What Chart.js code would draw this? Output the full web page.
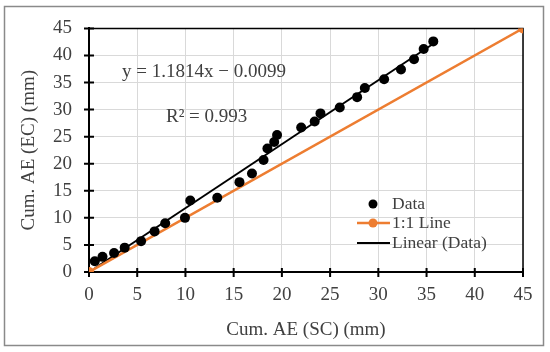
<!DOCTYPE html>
<html>
<head>
<meta charset="utf-8">
<script src="https://cdn.jsdelivr.net/npm/chart.js@4/dist/chart.umd.min.js"></script>
<style>
    body { margin: 0; background: #fff; }
    #wrap { width: 550px; height: 352px; }
</style>
</head>
<body>
<div id="wrap"><canvas id="chart" width="550" height="352"></canvas></div>
<script>
const sc = [0.6, 1.4, 2.6, 3.7, 5.4, 6.8, 7.9, 9.95, 10.5, 13.3, 15.6, 16.9, 18.1, 18.5,
    19.2, 19.5, 22.0, 23.4, 24.0, 26.0, 27.8, 28.6, 30.6, 32.35, 33.7, 34.7, 35.7];
const ec = [2.0, 2.8, 3.5, 4.5, 5.7, 7.5, 9.0, 10.0, 13.2, 13.7, 16.6, 18.2, 20.7, 22.8,
    24.0, 25.3, 26.7, 27.8, 29.3, 30.4, 32.3, 34.0, 35.6, 37.4, 39.3, 41.2, 42.6];
const oneToOneX = [0, 45];
const oneToOneY = [0, 45];
const slope = 1.1814;
const intercept = -0.0099;
const tickValues = [0, 5, 10, 15, 20, 25, 30, 35, 40, 45];

const FONT = "'Liberation Serif', 'Times New Roman', serif";
const TEXT = "#404040";
const ORANGE = "#ED7D31";

const dataPts = sc.map((x, i) => ({ x: x, y: ec[i] }));
const unitPts = oneToOneX.map((x, i) => ({ x: x, y: oneToOneY[i] }));
const xMin = Math.min(...sc), xMax = Math.max(...sc);
const trendPts = [xMin, xMax].map((x) => ({ x: x, y: slope * x + intercept }));

const framePlugin = {
    id: "frame",
    beforeDraw: (chart) => {
        const ctx = chart.ctx;
        ctx.save();
        ctx.fillStyle = "#fff";
        ctx.fillRect(0, 0, chart.width, chart.height);
        ctx.strokeStyle = "#8a8a8a";
        ctx.lineWidth = 1.5;
        ctx.strokeRect(4.5, 6.5, 539, 339);
        ctx.restore();
    },
    beforeDatasetsDraw: (chart) => {
        const { ctx, chartArea: a, scales } = chart;
        ctx.save();
        ctx.strokeStyle = "#000";
        ctx.lineWidth = 1.5;
        ctx.beginPath();
        ctx.moveTo(a.left, a.top);
        ctx.lineTo(a.right, a.top);
        ctx.lineTo(a.right, a.bottom);
        ctx.stroke();
        ctx.lineWidth = 2;
        ctx.beginPath();
        tickValues.forEach((v) => {
            const y = scales.y.getPixelForValue(v);
            ctx.moveTo(a.left - 5, y);
            ctx.lineTo(a.left + 5, y);
            const x = scales.x.getPixelForValue(v);
            ctx.moveTo(x, a.bottom - 4);
            ctx.lineTo(x, a.bottom + 5);
        });
        ctx.stroke();
        ctx.restore();
    },
    afterDraw: (chart) => {
        const ctx = chart.ctx;
        ctx.save();
        ctx.font = "19px " + FONT;
        ctx.fillStyle = TEXT;
        ctx.textBaseline = "middle";
        ctx.fillText("y = 1.1814x \u2212 0.0099", 122, 72);
        ctx.fillText("R\u00B2 = 0.993", 166, 117);

        // legend
        const lx = 373, tx = 392;
        ctx.font = "17.5px " + FONT;
        ctx.fillStyle = "#000";
        ctx.beginPath();
        ctx.arc(lx, 204, 4.5, 0, Math.PI * 2);
        ctx.fill();
        ctx.strokeStyle = ORANGE;
        ctx.lineWidth = 2.5;
        ctx.beginPath();
        ctx.moveTo(357, 223);
        ctx.lineTo(390, 223);
        ctx.stroke();
        ctx.fillStyle = ORANGE;
        ctx.beginPath();
        ctx.arc(lx, 223, 4.5, 0, Math.PI * 2);
        ctx.fill();
        ctx.strokeStyle = "#000";
        ctx.lineWidth = 2;
        ctx.beginPath();
        ctx.moveTo(357, 243);
        ctx.lineTo(390, 243);
        ctx.stroke();
        ctx.fillStyle = TEXT;
        ctx.fillText("Data", tx, 204);
        ctx.fillText("1:1 Line", tx, 223);
        ctx.fillText("Linear (Data)", tx, 243);
        ctx.restore();
    },
};

Chart.defaults.font.family = FONT;
Chart.defaults.font.size = 19;
Chart.defaults.color = TEXT;

new Chart(document.getElementById("chart"), {
    type: "scatter",
    data: {
        datasets: [
            {
                label: "Linear (Data)",
                data: trendPts,
                showLine: true,
                borderColor: "#000",
                borderWidth: 2,
                pointRadius: 0,
                order: 3,
            },
            {
                label: "1:1 Line",
                data: unitPts,
                showLine: true,
                borderColor: ORANGE,
                backgroundColor: ORANGE,
                borderWidth: 2.5,
                pointRadius: 5,
                pointBorderWidth: 0,
                order: 2,
            },
            {
                label: "Data",
                data: dataPts,
                backgroundColor: "#000",
                borderColor: "#000",
                pointRadius: 5,
                pointBorderWidth: 0,
                order: 1,
            },
        ],
    },
    options: {
        responsive: false,
        animation: false,
        layout: { padding: { left: 0, top: 24, right: 27, bottom: 0 } },
        plugins: {
            legend: { display: false },
            tooltip: { enabled: false },
        },
        scales: {
            x: {
                type: "linear",
                min: 0,
                max: 45,
                ticks: { stepSize: 5, padding: 12, color: TEXT },
                grid: { color: "#d9d9d9", drawTicks: false },
                border: { color: "#000", width: 2 },
                title: {
                    display: true,
                    text: "Cum. AE (SC) (mm)",
                    color: TEXT,
                    font: { size: 19 },
                    padding: { top: 0, bottom: 11 },
                },
                afterFit: (s) => { s.height = 80; },
            },
            y: {
                type: "linear",
                min: 0,
                max: 45,
                ticks: { stepSize: 5, padding: 17, color: TEXT },
                grid: { color: "#d9d9d9", drawTicks: false },
                border: { color: "#000", width: 2 },
                title: {
                    display: true,
                    text: "Cum. AE (EC) (mm)",
                    color: TEXT,
                    font: { size: 19 },
                    padding: { top: 18, bottom: 0 },
                },
                afterFit: (s) => { s.width = 89; },
            },
        },
    },
    plugins: [framePlugin],
});
</script>
</body>
</html>
